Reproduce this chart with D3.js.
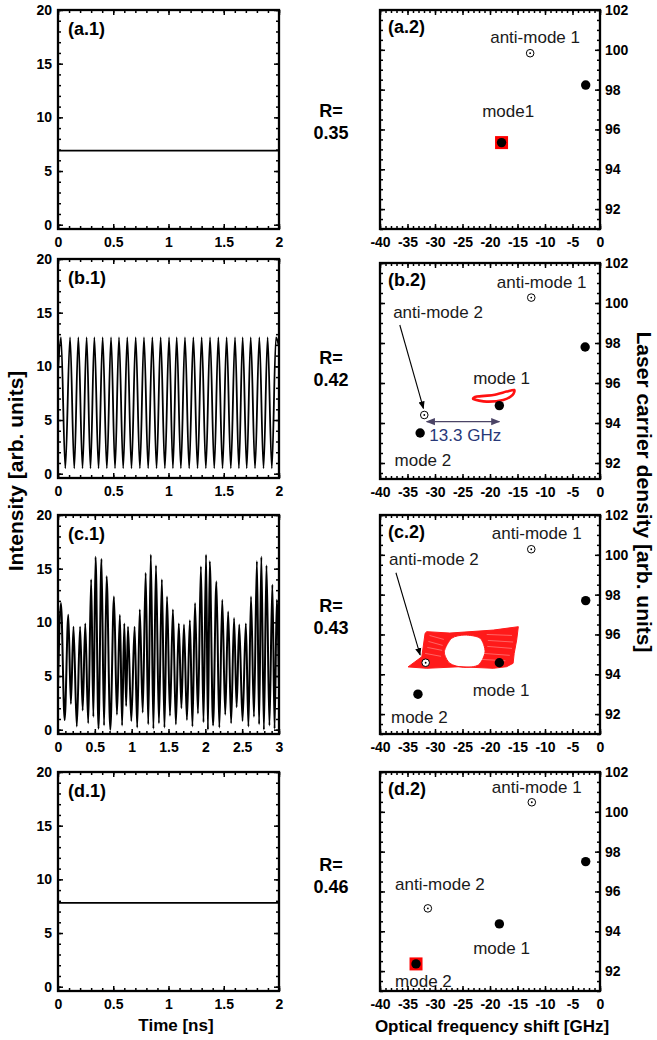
<!DOCTYPE html>
<html>
<head>
<meta charset="utf-8">
<script src="https://cdn.jsdelivr.net/npm/d3@7"></script>
<style>
body { margin: 0; background: #fff; }
svg text { font-family: "Liberation Sans", Arial, Helvetica, sans-serif; }
</style>
</head>
<body>
<div id="chart"></div>
<script>
// ---- data ----
const rowIds = ["a", "b", "c", "d"]
const rValues = ["0.35", "0.42", "0.43", "0.46"]
const timeMax = [2, 2, 3, 2]

const timeTicks = [0, 0.5, 1, 1.5, 2, 2.5, 3]
const intensityTicks = [0, 5, 10, 15, 20]
const freqTicks = [-40, -35, -30, -25, -20, -15, -10, -5, 0]
const densityTicks = [92, 94, 96, 98, 100, 102]

// intensity time traces [t ns, intensity]
const steadyA = [[0, 6.9], [2, 6.9]]
const steadyD = [[0, 7.8], [2, 7.8]]
const pulsingB = [[0,9.5],[0.027,12.7],[0.066,0.5],[0.109,12.7],[0.147,0.5],[0.184,12.7],[0.222,0.5],[0.259,12.7],[0.294,0.5],[0.329,12.7],[0.367,0.5],[0.404,12.7],[0.442,0.5],[0.480,12.7],[0.516,0.5],[0.552,12.7],[0.590,0.5],[0.627,12.7],[0.665,0.5],[0.703,12.7],[0.741,0.5],[0.778,12.7],[0.816,0.5],[0.854,12.7],[0.892,0.5],[0.929,12.7],[0.967,0.5],[1.005,12.7],[1.040,0.5],[1.074,12.7],[1.112,0.5],[1.149,12.7],[1.187,0.5],[1.225,12.7],[1.263,0.5],[1.300,12.7],[1.338,0.5],[1.376,12.7],[1.414,0.5],[1.451,12.7],[1.489,0.5],[1.526,12.7],[1.564,0.5],[1.602,12.7],[1.637,0.5],[1.671,12.7],[1.708,0.5],[1.744,12.7],[1.783,0.5],[1.822,12.7],[1.860,0.5],[1.897,12.7],[1.935,0.5],[1.973,12.7],[2.0,11.8]]
const chaoticC = [[0,4.0],[0.04,11.8],[0.09,0.9],[0.14,10.7],[0.175,2.4],[0.21,9.6],[0.255,0.3],[0.30,9.6],[0.335,1.8],[0.37,9.9],[0.41,0.6],[0.45,14.0],[0.48,1.2],[0.51,16.1],[0.55,0.1],[0.59,15.9],[0.625,0.4],[0.66,14.3],[0.71,0.0],[0.76,12.4],[0.80,1.4],[0.84,10.7],[0.87,0.4],[0.90,9.9],[0.925,2.2],[0.95,9.6],[0.995,0.8],[1.04,9.6],[1.075,0.2],[1.11,11.2],[1.15,1.6],[1.19,14.6],[1.225,0.5],[1.26,16.3],[1.295,0.1],[1.33,15.3],[1.37,0.6],[1.41,14.0],[1.445,0.2],[1.48,12.4],[1.52,1.3],[1.56,11.2],[1.60,0.5],[1.64,9.9],[1.675,2.0],[1.71,9.8],[1.75,0.9],[1.79,10.2],[1.825,0.3],[1.86,11.8],[1.90,1.5],[1.94,15.2],[1.975,0.7],[2.01,16.3],[2.035,0.0],[2.06,15.7],[2.105,0.4],[2.15,13.8],[2.19,0.2],[2.23,12.1],[2.27,1.4],[2.31,11.0],[2.35,0.6],[2.39,10.4],[2.425,2.1],[2.46,9.8],[2.505,0.8],[2.55,9.9],[2.585,0.3],[2.62,12.4],[2.66,1.2],[2.70,15.7],[2.73,0.5],[2.76,16.1],[2.795,0.0],[2.83,15.3],[2.87,0.4],[2.91,13.5],[2.94,0.1],[2.97,12.1],[3.0,4.0]]
const intensitySeries = [steadyA, pulsingB, chaoticC, steadyD]

// stationary solutions [freq GHz, carrier density]
const modes = [
  [[-17.9, 95.34], [-2.6, 98.23]],
  [[-18.3, 94.87], [-2.7, 97.8], [-32.7, 93.5]],
  [[-18.3, 94.58], [-2.6, 97.7], [-33.1, 93.0]],
  [[-18.3, 94.37], [-2.6, 97.5], [-33.45, 92.36]]
]
const antiModes = [
  [[-12.7, 99.83]],
  [[-12.5, 100.27], [-31.95, 94.4]],
  [[-12.5, 100.28], [-31.7, 94.58]],
  [[-12.4, 100.48], [-31.3, 95.15]]
]
const lockedMode = [[-17.9, 95.34], null, null, [-33.45, 92.36]]
const modeLabels = [
  [["anti-mode 1", -11.8, 100.66], ["mode1", -16.7, 96.9]],
  [["anti-mode 1", -10.6, 101.07], ["anti-mode 2", -29.45, 99.57], ["mode 1", -17.9, 96.25], ["mode 2", -32.2, 92.15]],
  [["anti-mode 1", -11.5, 101.08], ["anti-mode 2", -30.2, 99.78], ["mode 1", -18.0, 93.2], ["mode 2", -32.85, 91.84]],
  [["anti-mode 1", -11.5, 101.26], ["anti-mode 2", -29.1, 96.37], ["mode 1", -17.9, 93.18], ["mode 2", -32.1, 91.52]]
]

// trajectories
const loopB = [[-23.0,95.19],[-20.6,95.07],[-17.6,95.15],[-15.9,95.4],[-15.6,95.65],[-17.0,95.57],[-19.4,95.4],[-22.4,95.32]]
const attractorC = [[-34.9,94.37],[-32.4,94.88],[-31.8,96.06],[-31.5,96.14],[-27.3,96.07],[-19.4,96.22],[-14.85,96.39],[-15.15,95.72],[-15.6,95.05],[-15.8,94.55],[-17.0,94.38],[-19.4,94.3],[-25.45,94.38],[-31.5,94.3]]
const attractorHoleC = [[-28.3,95.13],[-26.96,95.81],[-24.55,95.97],[-21.8,95.81],[-20.9,95.13],[-22.1,94.47],[-24.85,94.35],[-27.3,94.55]]
const streaksC = [
  [[-31.0,95.95],[-28.4,95.75]], [[-31.2,95.65],[-28.6,95.45]], [[-31.4,95.35],[-28.7,95.2]],
  [[-31.8,95.05],[-28.9,94.9]], [[-20.6,96.0],[-16.0,95.95]], [[-20.4,95.7],[-15.8,95.62]],
  [[-20.5,95.4],[-16.0,95.3]], [[-21.2,95.05],[-16.4,94.95]], [[-21.8,94.75],[-17.2,94.68]]
]
const arrowB = [[-36.4, 98.9], [-32.1, 94.73]]
const arrowC = [[-37.1, 99.1], [-32.7, 94.97]]
const separationB = [[-31.5, 94.07], [-18.3, 94.07]]
const separationLabel = ["13.3 GHz", -24.5, 93.4]

// ---- layout ----
const W = 657, H = 1040
const leftX = [58, 279], rightX = [380, 600]
const rowTop = [10, 259, 515, 772]
const rowTopRight = [10, 263, 515, 772]
const rowH = 219
const rowHRight = [219, 216, 219, 219]
const densityDomain = [[91, 102], [91.2, 102], [91, 102], [91, 102]]
const rTextY = [117, 364, 612, 871]

const svg = d3.select("#chart").append("svg")
    .attr("width", W)
    .attr("height", H)

const defs = svg.append("defs")
function arrowMarker(id, color) {
  defs.append("marker")
      .attr("id", id)
      .attr("viewBox", "0 0 10 10")
      .attr("refX", 9).attr("refY", 5)
      .attr("markerWidth", 7).attr("markerHeight", 7)
      .attr("orient", "auto-start-reverse")
    .append("path")
      .attr("d", "M0,1L10,5L0,9Z")
      .attr("fill", color)
}
arrowMarker("arrBlack", "#000")
arrowMarker("arrPurple", "#4b4466")

// frame with inward ticks on all four sides
function frame(g, x, y, o) {
  const [x0, x1] = x.range()
  const [yb, yt] = y.range()
  const clean = a => { a.select(".domain").remove(); a.selectAll("line").attr("stroke-width", 1.5) }
  const minorX = d3.range(x.domain()[0], x.domain()[1] + 1e-9, o.xMinor)
  const minorY = d3.range(o.yMinorStart, y.domain()[1] + 1e-9, o.yMinor)

  g.append("g").attr("transform", `translate(0,${yb})`)
      .call(d3.axisBottom(x).tickValues(minorX).tickSize(-3).tickFormat("")).call(clean)
  g.append("g").attr("transform", `translate(0,${yt})`)
      .call(d3.axisTop(x).tickValues(minorX).tickSize(-3).tickFormat("")).call(clean)
  g.append("g").attr("transform", `translate(0,${yt})`)
      .call(d3.axisTop(x).tickValues(o.xTicks).tickSize(-5).tickFormat("")).call(clean)
  g.append("g").attr("class", "x-axis").attr("transform", `translate(0,${yb})`)
      .call(d3.axisBottom(x).tickValues(o.xTicks).tickSize(-5).tickPadding(8).tickFormat(d => String(d))).call(clean)

  g.append("g").attr("transform", `translate(${x0},0)`)
      .call(d3.axisLeft(y).tickValues(minorY).tickSize(-3).tickFormat("")).call(clean)
  g.append("g").attr("transform", `translate(${x1},0)`)
      .call(d3.axisRight(y).tickValues(minorY).tickSize(-3).tickFormat("")).call(clean)
  if (o.labelRight) {
    g.append("g").attr("transform", `translate(${x0},0)`)
        .call(d3.axisLeft(y).tickValues(o.yTicks).tickSize(-5).tickFormat("")).call(clean)
    g.append("g").attr("class", "y-axis").attr("transform", `translate(${x1},0)`)
        .call(d3.axisRight(y).tickValues(o.yTicks).tickSize(-5).tickPadding(5).tickFormat(d => String(d))).call(clean)
  } else {
    g.append("g").attr("class", "y-axis").attr("transform", `translate(${x0},0)`)
        .call(d3.axisLeft(y).tickValues(o.yTicks).tickSize(-5).tickPadding(6).tickFormat(d => String(d))).call(clean)
    g.append("g").attr("transform", `translate(${x1},0)`)
        .call(d3.axisRight(y).tickValues(o.yTicks).tickSize(-5).tickFormat("")).call(clean)
  }
  g.selectAll(".x-axis text, .y-axis text")
      .attr("font-size", 14)
      .attr("font-weight", "bold")
      .attr("fill", "#000")
      .attr("font-family", null)

  g.append("rect")
      .attr("x", x0).attr("y", yt)
      .attr("width", x1 - x0).attr("height", yb - yt)
      .attr("fill", "none")
      .attr("stroke", "#000")
      .attr("stroke-width", 2.3)
}

rowIds.forEach((id, i) => {
  // ----- left: intensity vs time -----
  const gl = svg.append("g")
  const xT = d3.scaleLinear().domain([0, timeMax[i]]).range(leftX)
  const yI = d3.scaleLinear().domain([-0.4, 20]).range([rowTop[i] + rowH, rowTop[i]])

  gl.append("clipPath").attr("id", "clip" + id)
    .append("rect")
      .attr("x", leftX[0]).attr("y", rowTop[i])
      .attr("width", leftX[1] - leftX[0]).attr("height", rowH)

  const lineGen = d3.line()
      .x(d => xT(d[0]))
      .y(d => yI(d[1]))
      .curve(d3.curveMonotoneX)

  gl.append("path")
      .datum(intensitySeries[i])
      .attr("clip-path", `url(#clip${id})`)
      .attr("d", lineGen)
      .attr("fill", "none")
      .attr("stroke", "#000")
      .attr("stroke-width", i === 2 ? 2 : 1.8)

  frame(gl, xT, yI, {
    xTicks: timeTicks.filter(t => t <= timeMax[i]), xMinor: 0.1,
    yTicks: intensityTicks, yMinor: 1, yMinorStart: 0, labelRight: false
  })

  gl.append("text")
      .attr("x", leftX[0] + 10).attr("y", rowTop[i] + 25)
      .attr("font-size", 18).attr("font-weight", "bold")
      .text(`(${id}.1)`)

  // ----- middle: R value -----
  svg.append("text")
      .attr("x", 331).attr("y", rTextY[i])
      .attr("text-anchor", "middle")
      .attr("font-size", 18).attr("font-weight", "bold")
      .text("R=")
  svg.append("text")
      .attr("x", 331).attr("y", rTextY[i] + 22)
      .attr("text-anchor", "middle")
      .attr("font-size", 18).attr("font-weight", "bold")
      .text(rValues[i])

  // ----- right: carrier density vs optical frequency -----
  const gr = svg.append("g")
  const xF = d3.scaleLinear().domain([-40, 0]).range(rightX)
  const yN = d3.scaleLinear().domain(densityDomain[i])
      .range([rowTopRight[i] + rowHRight[i], rowTopRight[i]])

  const linear = d3.line().x(d => xF(d[0])).y(d => yN(d[1])).curve(d3.curveLinearClosed)
  const smooth = d3.line().x(d => xF(d[0])).y(d => yN(d[1])).curve(d3.curveCardinalClosed.tension(0.2))

  if (id === "b") {
    gr.append("path")
        .datum(loopB)
        .attr("d", smooth)
        .attr("fill", "none")
        .attr("stroke", "#ff1111")
        .attr("stroke-width", 2.6)
  }
  if (id === "c") {
    gr.append("path")
        .attr("d", linear(attractorC) + smooth(attractorHoleC))
        .attr("fill", "#ff1a1a")
        .attr("fill-rule", "evenodd")
        .attr("stroke", "#ff1a1a")
        .attr("stroke-width", 1)
    gr.selectAll(".streak")
      .data(streaksC)
      .join("line")
        .attr("class", "streak")
        .attr("x1", d => xF(d[0][0])).attr("y1", d => yN(d[0][1]))
        .attr("x2", d => xF(d[1][0])).attr("y2", d => yN(d[1][1]))
        .attr("stroke", "#fff")
        .attr("stroke-opacity", 0.55)
        .attr("stroke-width", 0.6)
  }

  if (lockedMode[i]) {
    gr.append("rect")
        .attr("x", xF(lockedMode[i][0]) - 6.5)
        .attr("y", yN(lockedMode[i][1]) - 6.5)
        .attr("width", 13).attr("height", 13)
        .attr("fill", "#ff0000")
  }

  gr.selectAll(".mode")
    .data(modes[i])
    .join("circle")
      .attr("class", "mode")
      .attr("cx", d => xF(d[0]))
      .attr("cy", d => yN(d[1]))
      .attr("r", 4.7)
      .attr("fill", "#000")

  const am = gr.selectAll(".anti")
    .data(antiModes[i])
    .join("g")
      .attr("class", "anti")
      .attr("transform", d => `translate(${xF(d[0])},${yN(d[1])})`)
  am.append("circle").attr("r", 3.8).attr("fill", "#fff").attr("stroke", "#000").attr("stroke-width", 1)
  am.append("circle").attr("r", 0.9).attr("fill", "#000")

  gr.selectAll(".mlabel")
    .data(modeLabels[i])
    .join("text")
      .attr("class", "mlabel")
      .attr("x", d => xF(d[1]))
      .attr("y", d => yN(d[2]))
      .attr("dy", "0.35em")
      .attr("text-anchor", "middle")
      .attr("font-size", 17)
      .attr("fill", "#1a1a1a")
      .text(d => d[0])

  const arrow = id === "b" ? arrowB : id === "c" ? arrowC : null
  if (arrow) {
    gr.append("line")
        .attr("x1", xF(arrow[0][0])).attr("y1", yN(arrow[0][1]))
        .attr("x2", xF(arrow[1][0])).attr("y2", yN(arrow[1][1]))
        .attr("stroke", "#000").attr("stroke-width", 1.1)
        .attr("marker-end", "url(#arrBlack)")
  }
  if (id === "b") {
    gr.append("line")
        .attr("x1", xF(separationB[0][0])).attr("y1", yN(separationB[0][1]))
        .attr("x2", xF(separationB[1][0])).attr("y2", yN(separationB[1][1]))
        .attr("stroke", "#4b4466").attr("stroke-width", 1.3)
        .attr("marker-start", "url(#arrPurple)")
        .attr("marker-end", "url(#arrPurple)")
    gr.append("text")
        .attr("x", xF(separationLabel[1]))
        .attr("y", yN(separationLabel[2]))
        .attr("dy", "0.35em")
        .attr("text-anchor", "middle")
        .attr("font-size", 17)
        .attr("fill", "#283878")
        .text(separationLabel[0])
  }

  frame(gr, xF, yN, {
    xTicks: freqTicks, xMinor: 1,
    yTicks: densityTicks, yMinor: 0.5, yMinorStart: Math.ceil(densityDomain[i][0] * 2) / 2, labelRight: true
  })

  gr.append("text")
      .attr("x", rightX[0] + 8).attr("y", rowTopRight[i] + 23)
      .attr("font-size", 18).attr("font-weight", "bold")
      .text(`(${id}.2)`)
})

// axis titles
svg.append("text")
    .attr("transform", "translate(23,471) rotate(-90)")
    .attr("text-anchor", "middle")
    .attr("font-size", 21).attr("font-weight", "bold")
    .text("Intensity [arb. units]")

svg.append("text")
    .attr("transform", "translate(637,492) rotate(90)")
    .attr("text-anchor", "middle")
    .attr("font-size", 21).attr("font-weight", "bold")
    .text("Laser carrier density [arb. units]")

svg.append("text")
    .attr("x", 176).attr("y", 1031)
    .attr("text-anchor", "middle")
    .attr("font-size", 17).attr("font-weight", "bold")
    .text("Time [ns]")

svg.append("text")
    .attr("x", 492).attr("y", 1032)
    .attr("text-anchor", "middle")
    .attr("font-size", 17).attr("font-weight", "bold")
    .text("Optical frequency shift [GHz]")
</script>
</body>
</html>
